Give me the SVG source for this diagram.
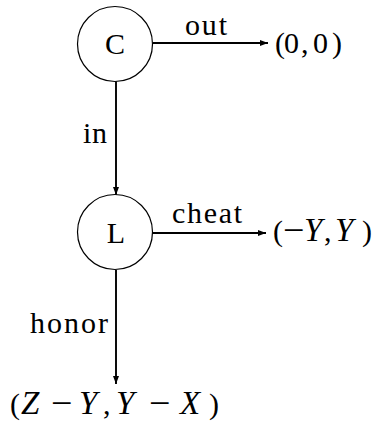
<svg xmlns="http://www.w3.org/2000/svg" width="382" height="423" viewBox="0 0 382 423">
<style>
text{font-family:"Liberation Serif","DejaVu Serif",serif;font-size:30px;fill:#000}
.node{fill:#fff;stroke:#000;stroke-width:1.2}
.edge{stroke:#000;stroke-width:1.9;fill:none;marker-end:url(#ah)}
.it{font-style:italic;font-size:33px}
.op{font-size:38px}
</style>
<defs>
<marker id="ah" markerWidth="9" markerHeight="8" refX="8" refY="4" orient="auto" markerUnits="userSpaceOnUse">
<path d="M0,1 L8,4 L0,7 Z" fill="#000"/>
</marker>
</defs>
<g id="connectors">
<line class="edge" x1="153" y1="43" x2="268" y2="43"/>
<line class="edge" x1="116" y1="81" x2="116" y2="195"/>
<line class="edge" x1="153" y1="233" x2="266" y2="233"/>
<line class="edge" x1="116" y1="270" x2="116" y2="384"/>
<text x="185" y="35" textLength="42" lengthAdjust="spacing">out</text>
<text x="83" y="143" textLength="24" lengthAdjust="spacing">in</text>
<text x="172" y="223" textLength="70" lengthAdjust="spacing">cheat</text>
<text x="30" y="333" textLength="78" lengthAdjust="spacing">honor</text>
</g>
<g id="C">
<circle class="node" cx="115" cy="44" r="37.5"/>
<text x="115" y="54" text-anchor="middle">C</text>
</g>
<g id="L">
<circle class="node" cx="115" cy="232" r="37.5"/>
<text x="116" y="243" text-anchor="middle">L</text>
</g>
<g id="out00">
<text y="53"><tspan x="275">(</tspan><tspan x="284">0</tspan><tspan x="301">,</tspan><tspan x="313">0</tspan><tspan x="332">)</tspan></text>
</g>
<g id="cheatpay">
<text y="241"><tspan x="273">(</tspan><tspan x="283" y="243" class="op">−</tspan><tspan x="304" y="241" class="it">Y</tspan><tspan x="324">,</tspan><tspan x="335" class="it">Y</tspan><tspan x="362">)</tspan></text>
</g>
<g id="honorpay">
<text y="414"><tspan x="10">(</tspan><tspan x="21" class="it">Z</tspan><tspan x="51" y="416" class="op">−</tspan><tspan x="79" y="414" class="it">Y</tspan><tspan x="103">,</tspan><tspan x="116" class="it">Y</tspan><tspan x="149" y="416" class="op">−</tspan><tspan x="180" y="414" class="it">X</tspan><tspan x="209">)</tspan></text>
</g>
</svg>
